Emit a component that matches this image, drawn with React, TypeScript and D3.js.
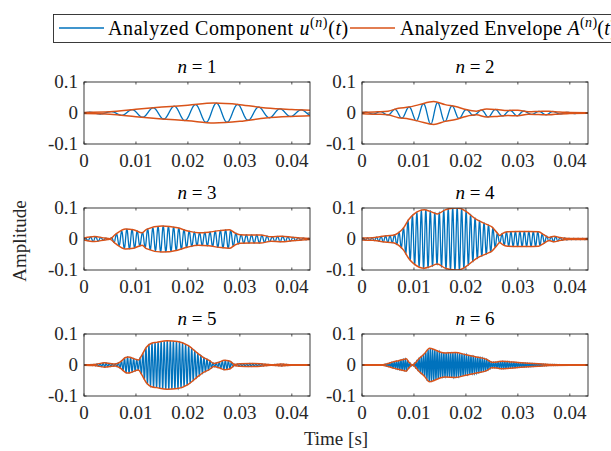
import React from "react";
import * as d3 from "d3";

// envelope knots [time s, amplitude]
const env1 = [[0, 0.002], [0.005, 0.004], [0.01, 0.012], [0.015, 0.019], [0.02, 0.025], [0.025, 0.032], [0.03, 0.027], [0.035, 0.016], [0.04, 0.011], [0.0435, 0.009]];
const env2 = [[0, 0.002], [0.003, 0.004], [0.005, 0.006], [0.007, 0.015], [0.009, 0.019], [0.011, 0.027], [0.0138, 0.037], [0.016, 0.027], [0.018, 0.021], [0.02, 0.011], [0.022, 0.006], [0.024, 0.013], [0.026, 0.011], [0.028, 0.008], [0.03, 0.009], [0.032, 0.004], [0.034, 0.005], [0.036, 0.006], [0.038, 0.003], [0.04, 0.002], [0.0435, 0.001]];
const env3 = [[0, 0.003], [0.002, 0.008], [0.004, 0.003], [0.005, 0.001], [0.006, 0.014], [0.008, 0.032], [0.0095, 0.03], [0.0112, 0.02], [0.012, 0.031], [0.015, 0.042], [0.018, 0.036], [0.02, 0.026], [0.022, 0.02], [0.024, 0.022], [0.026, 0.027], [0.028, 0.03], [0.029, 0.02], [0.03, 0.014], [0.032, 0.013], [0.034, 0.013], [0.036, 0.007], [0.038, 0.009], [0.04, 0.006], [0.042, 0.003], [0.0435, 0.002]];
const env4 = [[0, 0.003], [0.002, 0.004], [0.004, 0.009], [0.006, 0.012], [0.007, 0.02], [0.008, 0.036], [0.009, 0.063], [0.01, 0.08], [0.012, 0.094], [0.013, 0.09], [0.0145, 0.081], [0.016, 0.094], [0.018, 0.1], [0.019, 0.098], [0.02, 0.089], [0.022, 0.063], [0.024, 0.047], [0.025, 0.039], [0.026, 0.02], [0.0265, 0.011], [0.027, 0.017], [0.028, 0.023], [0.03, 0.024], [0.032, 0.024], [0.034, 0.023], [0.035, 0.014], [0.036, 0.005], [0.037, 0.009], [0.038, 0.005], [0.04, 0.002], [0.0435, 0.002]];
const env5 = [[0, 0.001], [0.002, 0.002], [0.004, 0.007], [0.005, 0.005], [0.006, 0.003], [0.007, 0.01], [0.008, 0.024], [0.0085, 0.026], [0.009, 0.024], [0.0105, 0.016], [0.011, 0.028], [0.012, 0.057], [0.013, 0.07], [0.014, 0.073], [0.016, 0.078], [0.018, 0.076], [0.02, 0.063], [0.022, 0.036], [0.023, 0.024], [0.024, 0.016], [0.025, 0.005], [0.026, 0.009], [0.027, 0.015], [0.028, 0.013], [0.029, 0.002], [0.03, 0.004], [0.032, 0.005], [0.034, 0.004], [0.036, 0.001], [0.038, 0.003], [0.04, 0.001], [0.0435, 0.001]];
const env6 = [[0, 0.001], [0.004, 0.001], [0.005, 0.005], [0.006, 0.01], [0.007, 0.014], [0.008, 0.018], [0.0085, 0.02], [0.009, 0.01], [0.0097, 0.0], [0.011, 0.021], [0.012, 0.036], [0.013, 0.054], [0.014, 0.049], [0.015, 0.042], [0.016, 0.039], [0.018, 0.04], [0.02, 0.033], [0.022, 0.026], [0.024, 0.018], [0.025, 0.009], [0.026, 0.01], [0.027, 0.012], [0.028, 0.011], [0.03, 0.008], [0.032, 0.006], [0.034, 0.004], [0.036, 0.002], [0.04, 0.001], [0.0435, 0.001]];

const envelopes = [env1, env2, env3, env4, env5, env6];
const carrierHz = [245, 360, 1000, 1160, 1700, 2300]; // centre frequency of each mode
const panelNames = ["1", "2", "3", "4", "5", "6"];
const xTicks = [0, 0.01, 0.02, 0.03, 0.04];
const yTicks = [-0.1, 0, 0.1];

const tMax = 0.0435;
const fs = 44100;

const blue = "#0072BD";
const orange = "#D95319";
const axisColor = "#262626";
const font = "Liberation Serif";
const fsz = 19;

const colLeft = [84, 362];
const plotW = 226;
const rowTop = [82, 208, 334];
const plotH = 62;

function Panel({ idx }: { idx: number }) {
  const col = idx % 2;
  const row = Math.floor(idx / 2);
  const x0 = colLeft[col];
  const y0 = rowTop[row];
  const env = envelopes[idx];

  const x = d3.scaleLinear().domain([0, tMax]).range([x0, x0 + plotW]);
  const y = d3.scaleLinear().domain([-0.1, 0.1]).range([y0 + plotH, y0]);

  // amplitude along time from the knots
  const amp = d3.scaleLinear().domain(env.map(d => d[0])).range(env.map(d => d[1])).clamp(true);
  const times = d3.range(0, tMax, 1 / fs);
  const comp = times.map(t => [t, amp(t) * Math.sin(2 * Math.PI * carrierHz[idx] * t)]);

  const line = d3.line<number[]>().x(d => x(d[0])).y(d => y(d[1]));
  const envLine = d3.line<number[]>().x(d => x(d[0])).y(d => y(d[1])).curve(d3.curveMonotoneX);
  const clipId = "clip" + idx;

  return (
    <g>
      <defs>
        <clipPath id={clipId}>
          <rect x={x0} y={y0} width={plotW} height={plotH} />
        </clipPath>
      </defs>
      <g clipPath={`url(#${clipId})`}>
        <path d={line(comp) || ""} fill="none" stroke={blue} strokeWidth={1.3} />
        <path d={envLine(env) || ""} fill="none" stroke={orange} strokeWidth={1.5} />
        <path d={envLine(env.map(d => [d[0], -d[1]])) || ""} fill="none" stroke={orange} strokeWidth={1.5} />
      </g>
      <rect x={x0} y={y0} width={plotW} height={plotH} fill="none" stroke={axisColor} strokeWidth={0.9} />
      {xTicks.map(t => (
        <g key={"x" + t}>
          <line x1={x(t)} x2={x(t)} y1={y0 + plotH} y2={y0 + plotH - 2.5} stroke={axisColor} strokeWidth={0.8} />
          <line x1={x(t)} x2={x(t)} y1={y0} y2={y0 + 2.5} stroke={axisColor} strokeWidth={0.8} />
          <text x={x(t)} y={y0 + plotH + 23} textAnchor="middle" fontFamily={font} fontSize={fsz} fill={axisColor}>{t === 0 ? "0" : d3.format(".2f")(t)}</text>
        </g>
      ))}
      {yTicks.map(v => (
        <g key={"y" + v}>
          <line x1={x0} x2={x0 + 2.5} y1={y(v)} y2={y(v)} stroke={axisColor} strokeWidth={0.8} />
          <line x1={x0 + plotW} x2={x0 + plotW - 2.5} y1={y(v)} y2={y(v)} stroke={axisColor} strokeWidth={0.8} />
          <text x={x0 - 6} y={y(v) + 6} textAnchor="end" fontFamily={font} fontSize={fsz} fill={axisColor}>{v === 0 ? "0" : v < 0 ? "-0.1" : "0.1"}</text>
        </g>
      ))}
      <text x={x0 + plotW / 2} y={y0 - 9} textAnchor="middle" fontFamily={font} fontSize={fsz} fill="#000">
        <tspan fontStyle="italic">n</tspan>
        <tspan> = {panelNames[idx]}</tspan>
      </text>
    </g>
  );
}

export default function App() {
  const width = 611;
  const height = 451;
  return (
    <svg width={width} height={height} style={{ position: "absolute", left: 0, top: 0 }}>
      <rect x={0} y={0} width={width} height={height} fill="#fff" />
      {/* legend, runs past the right edge like the original */}
      <rect x={53.5} y={14.5} width={600} height={28} fill="#fff" stroke={axisColor} strokeWidth={0.9} />
      <line x1={59} x2={104} y1={28} y2={28} stroke={blue} strokeWidth={1.3} />
      <text x={108} y={35} fontFamily={font} fontSize={20} letterSpacing={0.6} fill="#000">
        Analyzed Component <tspan fontStyle="italic">u</tspan>
        <tspan fontSize={14} dy={-8}>(<tspan fontStyle="italic">n</tspan>)</tspan>
        <tspan dy={8}>(<tspan fontStyle="italic">t</tspan>)</tspan>
      </text>
      <line x1={350} x2={395} y1={28} y2={28} stroke={orange} strokeWidth={1.5} />
      <text x={400} y={35} fontFamily={font} fontSize={20} letterSpacing={0.3} fill="#000">
        Analyzed Envelope <tspan fontStyle="italic">A</tspan>
        <tspan fontSize={14} dy={-8}>(<tspan fontStyle="italic">n</tspan>)</tspan>
        <tspan dy={8}>(<tspan fontStyle="italic">t</tspan>)</tspan>
      </text>
      {panelNames.map((_, i) => <Panel key={i} idx={i} />)}
      <text x={0} y={0} transform="translate(26,241) rotate(-90)" textAnchor="middle" fontFamily={font} fontSize={fsz} fill={axisColor}>Amplitude</text>
      <text x={336} y={445} textAnchor="middle" fontFamily={font} fontSize={fsz} fill={axisColor}>Time [s]</text>
    </svg>
  );
}
